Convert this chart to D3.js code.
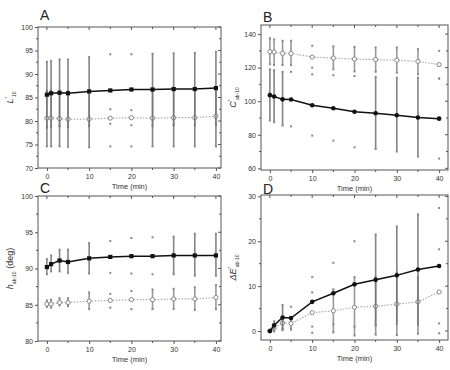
<!DOCTYPE html>
<html>
<head>
<meta charset="utf-8">
<script src="https://cdn.jsdelivr.net/npm/d3@7"></script>
<style>
    body { margin: 0; background: #fff; }
    svg { font-family: Arial, "Liberation Sans", sans-serif; }
    .frame { fill: none; stroke: #555; stroke-width: 1; }
    .axis path { stroke: #555; }
    .axis line { stroke: #555; }
    .axis text { font-size: 7px; fill: #333; }
    .whisker { stroke: #6e6e6e; stroke-width: 1.6; }
    .end-dot { fill: #888; }
    .line-filled { fill: none; stroke: #111; stroke-width: 1.5; }
    .line-open { fill: none; stroke: #aaa; stroke-width: 1.2; stroke-dasharray: 1.5, 1.5; }
</style>
</head>
<body>
<div id="chart"></div>
<script>

// time points (min)
var times = [0, 1, 3, 5, 10, 15, 20, 25, 30, 35, 40];

// A: L'10
var aFilled    = [85.6, 85.9, 86.0, 85.9, 86.3, 86.5, 86.7, 86.7, 86.8, 86.8, 87.0];
var aFilledHi  = [92.6, 92.8, 93.1, 93.1, 93.6, 94.2, 94.2, 94.3, 94.4, 94.5, 94.7];
var aFilledLo  = [74.6, 74.6, 74.6, 74.5, 74.4, 74.6, 74.6, 74.6, 74.6, 74.6, 74.6];
var aFilledBar = [1, 1, 1, 1, 1, 0, 0, 1, 1, 1, 1];
var aOpen      = [80.6, 80.6, 80.5, 80.4, 80.4, 80.6, 80.7, 80.6, 80.7, 80.7, 81.0];
var aOpenHi    = [86.4, 86.5, 86.4, 86.3, 86.2, 82.5, 82.3, 86.5, 86.5, 86.6, 86.8];
var aOpenLo    = [78.6, 78.8, 78.9, 78.7, 78.9, 79.4, 79.1, 79.0, 79.1, 79.1, 79.2];
var aOpenBar   = [1, 1, 1, 1, 1, 0, 0, 1, 1, 1, 1];

// B: C'ab-10
var bFilled    = [103.6, 102.8, 101.1, 101.0, 97.6, 95.8, 93.7, 92.8, 91.6, 90.3, 89.6];
var bFilledHi  = [119.0, 118.5, 117.5, 117.5, 116.0, 115.5, 115.0, 114.5, 114.0, 114.0, 113.5];
var bFilledLo  = [88.5, 87.5, 85.5, 85.0, 79.5, 76.5, 72.5, 71.5, 70.0, 67.0, 65.8];
var bFilledBar = [1, 1, 1, 0, 0, 0, 0, 1, 1, 1, 0];
var bOpen      = [129.5, 129.3, 128.5, 128.4, 126.3, 125.7, 125.1, 124.8, 124.4, 123.7, 121.8];
var bOpenHi    = [137.5, 136.8, 136.0, 136.0, 133.0, 132.7, 132.4, 132.0, 132.0, 131.0, 130.0];
var bOpenLo    = [122.0, 121.5, 121.5, 121.5, 120.0, 119.0, 117.7, 117.5, 117.0, 116.0, 113.5];
var bOpenBar   = [1, 1, 1, 1, 0, 1, 1, 1, 1, 1, 0];

// C: h ab-10 (deg)
var cFilled    = [90.2, 90.6, 91.1, 90.9, 91.4, 91.6, 91.7, 91.7, 91.8, 91.8, 91.8];
var cFilledHi  = [91.3, 91.8, 92.6, 92.6, 93.5, 93.8, 94.2, 94.3, 94.4, 94.8, 94.8];
var cFilledLo  = [89.2, 89.6, 89.6, 89.4, 89.3, 89.4, 89.3, 89.2, 89.2, 89.0, 89.0];
var cFilledBar = [1, 1, 1, 1, 1, 0, 0, 0, 1, 1, 1];
var cOpen      = [85.1, 85.1, 85.3, 85.3, 85.5, 85.6, 85.7, 85.7, 85.8, 85.8, 86.0];
var cOpenHi    = [85.6, 85.7, 85.9, 85.9, 86.7, 86.5, 86.9, 87.1, 87.2, 87.4, 87.7];
var cOpenLo    = [84.7, 84.6, 84.9, 84.8, 84.4, 84.6, 84.4, 84.4, 84.4, 84.3, 84.4];
var cOpenBar   = [1, 1, 1, 1, 1, 0, 0, 1, 1, 1, 1];

// D: ΔE'ab-10
var dFilled    = [0.0, 1.3, 3.0, 2.9, 6.5, 8.4, 10.4, 11.4, 12.4, 13.7, 14.5];
var dFilledHi  = [0.0, 2.2, 5.8, 5.4, 12.0, 15.2, 20.0, 21.5, 23.3, 26.0, 27.4];
var dFilledLo  = [0.0, 0.5, 0.2, 0.5, 1.0, 1.5, 1.0, 1.2, 1.6, 1.3, 1.7];
var dFilledBar = [0, 1, 1, 0, 0, 0, 0, 1, 1, 1, 0];
var dOpen      = [0.0, 0.6, 1.8, 1.7, 4.1, 4.5, 5.3, 5.5, 6.0, 6.5, 8.7];
var dOpenHi    = [0.0, 1.5, 2.8, 2.5, 8.6, 9.3, 12.0, 12.0, 13.0, 12.0, 18.2];
var dOpenLo    = [0.0, -0.1, 0.4, 0.3, -0.4, -0.3, -1.0, -0.8, -0.9, -0.6, -0.5];
var dOpenBar   = [0, 1, 1, 1, 0, 1, 1, 1, 1, 1, 0];

var xTicks = [0, 10, 20, 30, 40];

var panels = [
    { letter: "A", letterY: 20, label: ["L", "'", "10", ""], box: [38, 27, 221, 168], xDom: [-2.1, 41.2], yDom: [70, 100],
      yTicks: [70, 75, 80, 85, 90, 95, 100], yMinor: 2.5,
      filled: [aFilled, aFilledHi, aFilledLo, aFilledBar], open: [aOpen, aOpenHi, aOpenLo, aOpenBar], marker: "square" },
    { letter: "B", letterY: 22, label: ["C", "'", "ab-10", ""], box: [261, 25, 448, 170], xDom: [-2.1, 42.1], yDom: [59, 145.4],
      yTicks: [60, 80, 100, 120, 140], yMinor: 10,
      filled: [bFilled, bFilledHi, bFilledLo, bFilledBar], open: [bOpen, bOpenHi, bOpenLo, bOpenBar], marker: "circle" },
    { letter: "C", letterY: 193, label: ["h", "", "ab-10", " (deg)"], box: [38, 196, 221, 341], xDom: [-2.1, 41.2], yDom: [80, 100],
      yTicks: [80, 85, 90, 95, 100], yMinor: 2.5,
      filled: [cFilled, cFilledHi, cFilledLo, cFilledBar], open: [cOpen, cOpenHi, cOpenLo, cOpenBar], marker: "square" },
    { letter: "D", letterY: 194, label: ["\u0394E", "'", "ab-10", ""], box: [261, 195, 448, 340], xDom: [-2.1, 42.1], yDom: [-2, 30.3],
      yTicks: [0, 10, 20, 30], yMinor: 5,
      filled: [dFilled, dFilledHi, dFilledLo, dFilledBar], open: [dOpen, dOpenHi, dOpenLo, dOpenBar], marker: "circle" }
];

var svg = d3.select("#chart").append("svg")
    .attr("width", 450)
    .attr("height", 370);

/*
 * One panel of the figure
 */
Panel = function(_svg, _cfg) {
    this.svg = _svg;
    this.cfg = _cfg;
    this.initVis();
};

Panel.prototype.initVis = function() {
    var vis = this;
    var b = vis.cfg.box;

    vis.x = d3.scaleLinear().domain(vis.cfg.xDom).range([b[0], b[2]]);
    vis.y = d3.scaleLinear().domain(vis.cfg.yDom).range([b[3], b[1]]);

    vis.g = vis.svg.append("g");

    // minor ticks, all four sides
    var xMinor = d3.range(0, 41, 5);
    var yMinor = d3.range(vis.cfg.yTicks[0], vis.cfg.yDom[1] + 0.01, vis.cfg.yMinor);

    vis.g.append("g").selectAll("line").data(xMinor).enter().append("line")
        .attr("x1", function(d) { return vis.x(d); })
        .attr("x2", function(d) { return vis.x(d); })
        .attr("y1", b[1])
        .attr("y2", function(d) { return b[1] + (d % 10 === 0 ? 3 : 2); })
        .attr("stroke", "#555");

    vis.g.append("g").selectAll("line").data(yMinor).enter().append("line")
        .attr("x1", b[2])
        .attr("x2", function(d) { return b[2] - (vis.cfg.yTicks.indexOf(d) >= 0 ? 3 : 2); })
        .attr("y1", function(d) { return vis.y(d); })
        .attr("y2", function(d) { return vis.y(d); })
        .attr("stroke", "#555");

    vis.g.append("g").selectAll("line").data(yMinor.filter(function(d) { return vis.cfg.yTicks.indexOf(d) < 0; }))
        .enter().append("line")
        .attr("x1", b[0])
        .attr("x2", b[0] - 2)
        .attr("y1", function(d) { return vis.y(d); })
        .attr("y2", function(d) { return vis.y(d); })
        .attr("stroke", "#555");

    vis.g.append("g").selectAll("line").data(xMinor.filter(function(d) { return d % 10 !== 0; }))
        .enter().append("line")
        .attr("x1", function(d) { return vis.x(d); })
        .attr("x2", function(d) { return vis.x(d); })
        .attr("y1", b[3])
        .attr("y2", b[3] + 2)
        .attr("stroke", "#555");

    // axes
    vis.xAxis = d3.axisBottom(vis.x).tickValues(xTicks).tickSize(3).tickPadding(3).tickSizeOuter(0);
    vis.yAxis = d3.axisLeft(vis.y).tickValues(vis.cfg.yTicks).tickSize(3).tickPadding(2).tickSizeOuter(0);

    vis.g.append("g")
        .attr("class", "x-axis axis")
        .attr("transform", "translate(0," + b[3] + ")")
        .call(vis.xAxis);

    vis.g.append("g")
        .attr("class", "y-axis axis")
        .attr("transform", "translate(" + b[0] + ",0)")
        .call(vis.yAxis);

    vis.g.selectAll(".axis .domain").remove();

    vis.g.append("rect")
        .attr("class", "frame")
        .attr("x", b[0])
        .attr("y", b[1])
        .attr("width", b[2] - b[0])
        .attr("height", b[3] - b[1]);

    // titles
    vis.g.append("text")
        .attr("x", b[0] + 2)
        .attr("y", vis.cfg.letterY)
        .attr("font-size", 14)
        .attr("fill", "#222")
        .text(vis.cfg.letter);

    vis.g.append("text")
        .attr("x", (b[0] + b[2]) / 2)
        .attr("y", b[3] + 21)
        .attr("text-anchor", "middle")
        .attr("font-size", 7.5)
        .attr("fill", "#333")
        .text("Time (min)");

    var lab = vis.cfg.label;
    var yl = vis.g.append("text")
        .attr("transform", "translate(" + (b[0] - 25) + "," + ((b[1] + b[3]) / 2) + ") rotate(-90)")
        .attr("text-anchor", "middle")
        .attr("font-size", 9)
        .attr("fill", "#333");
    yl.append("tspan").attr("font-style", "italic").text(lab[0]);
    yl.append("tspan").attr("font-size", 7).attr("dy", -3).text(lab[1]);
    yl.append("tspan").attr("font-size", 5).attr("dy", lab[1] ? 6 : 3).text(lab[2]);
    yl.append("tspan").attr("dy", -3).text(lab[3]);

    vis.updateVis();
};

Panel.prototype.updateVis = function() {
    var vis = this;

    vis.drawSeries(vis.cfg.open, false);
    vis.drawSeries(vis.cfg.filled, true);
};

Panel.prototype.drawSeries = function(s, filled) {
    var vis = this;
    var rows = times.map(function(t, i) {
        return { t: t, v: s[0][i], hi: s[1][i], lo: s[2][i], bar: s[3][i] };
    });
    var grp = vis.g.append("g");

    grp.selectAll(".whisker").data(rows.filter(function(d) { return d.bar; }))
        .enter().append("line")
        .attr("class", "whisker")
        .attr("x1", function(d) { return vis.x(d.t); })
        .attr("x2", function(d) { return vis.x(d.t); })
        .attr("y1", function(d) { return vis.y(d.hi); })
        .attr("y2", function(d) { return vis.y(d.lo); })
        .attr("stroke-opacity", filled ? 0.85 : 0.7);

    var ends = [];
    rows.forEach(function(d) {
        if (d.hi !== d.v) ends.push({ t: d.t, v: d.hi });
        if (d.lo !== d.v) ends.push({ t: d.t, v: d.lo });
    });
    grp.selectAll(".end-dot").data(ends)
        .enter().append("rect")
        .attr("class", "end-dot")
        .attr("x", function(d) { return vis.x(d.t) - 1; })
        .attr("y", function(d) { return vis.y(d.v) - 1; })
        .attr("width", 2)
        .attr("height", 2);

    var line = d3.line()
        .x(function(d) { return vis.x(d.t); })
        .y(function(d) { return vis.y(d.v); });

    grp.append("path")
        .datum(rows)
        .attr("class", filled ? "line-filled" : "line-open")
        .attr("d", line);

    if (filled) {
        if (vis.cfg.marker === "square") {
            grp.selectAll(".mk").data(rows).enter().append("rect")
                .attr("x", function(d) { return vis.x(d.t) - 2.1; })
                .attr("y", function(d) { return vis.y(d.v) - 2.1; })
                .attr("width", 4.2)
                .attr("height", 4.2)
                .attr("fill", "#111");
        } else {
            grp.selectAll(".mk").data(rows).enter().append("circle")
                .attr("cx", function(d) { return vis.x(d.t); })
                .attr("cy", function(d) { return vis.y(d.v); })
                .attr("r", 2.3)
                .attr("fill", "#111");
        }
    } else {
        grp.selectAll(".mk").data(rows).enter().append("circle")
            .attr("cx", function(d) { return vis.x(d.t); })
            .attr("cy", function(d) { return vis.y(d.v); })
            .attr("r", 2.1)
            .attr("fill", "#fff")
            .attr("stroke", "#888")
            .attr("stroke-width", 1);
    }
};

panels.forEach(function(cfg) { new Panel(svg, cfg); });

</script>
</body>
</html>
